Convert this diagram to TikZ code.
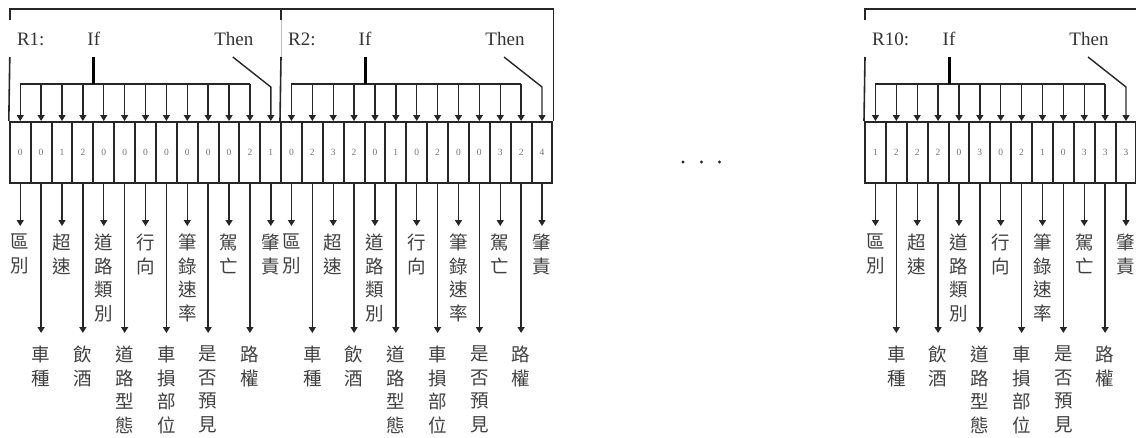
\documentclass[tikz,border=0pt]{standalone}
\usepackage{fontspec}
\setmainfont{Liberation Serif}
\newfontfamily\cjk{Noto Sans CJK TC}
\usetikzlibrary{arrows.meta}

\tikzset{
  frame/.style={line width=1.6pt, draw=black!85},
  faint/.style={line width=0.6pt, draw=black!25},
  cellbox/.style={draw=black!85, line width=2pt, minimum width=20.88pt,
    minimum height=61pt, inner sep=0pt, text=black!55,
    font=\fontsize{9.5}{9.5}\selectfont},
  feed/.style={line width=1.4pt, draw=black!85,
    -{Triangle[length=6pt,width=7pt]}},
  bracket/.style={line width=1.4pt, draw=black!85},
  ifstem/.style={line width=3pt, draw=black},
  head/.style={font=\fontsize{19}{19}\selectfont, text=black!80, inner sep=0pt},
  lab/.style={font=\cjk\fontsize{18.5}{23.5}\selectfont, align=center,
    inner sep=0pt, anchor=north, text=black!75},
  dot/.style={circle, fill=black!85, inner sep=0pt, minimum size=3.4pt},
}

% One rule: #1 name, #2 left edge of the cell row, #3 rule title, #4 cell values
\newcommand\ruleblock[4]{%
  \foreach \d [count=\i] in {#4}{
    \node[cellbox] (#1-\i) at ({#2+(\i-0.5)*20.88},152.5) {\d};
  }
  % titles
  \node[head, anchor=base west] (#1-name) at ({#2+7},45) {#3};
  \node[head, anchor=base] (#1-if) at ({#2+84},45) {If};
  \node[head, anchor=base] (#1-then) at ({#2+224},45) {Then};
  % condition bracket
  \coordinate (#1-ifs) at ({#2+84},57);
  \coordinate (#1-ifb) at ({#2+84},84);
  \foreach \i in {1,...,12}{
    \coordinate (#1-t\i) at ({#2+(\i-0.5)*20.88},84);
    \draw[feed] (#1-t\i) -- (#1-\i.north);
  }
  \draw[bracket] (#1-t1) -- (#1-t12);
  \draw[ifstem] (#1-ifs) -- (#1-ifb);
  % conclusion feed
  \coordinate (#1-ths) at ({#2+223},57);
  \coordinate (#1-t13) at ({#2+12.5*20.88},87);
  \draw[feed] (#1-ths) -- (#1-t13) -- (#1-13.north);
  % attribute outputs
  \foreach \t [count=\i] in {{區\\別},{車\\種},{超\\速},{飲\\酒},
      {道\\路\\類\\別},{道\\路\\型\\態},{行\\向},{車\\損\\部\\位},
      {筆\\錄\\速\\率},{是\\否\\預\\見},{駕\\亡},{路\\權},{肇\\責}}{
    \ifodd\i\relax \def\tipy{226}\def\laby{234}\else \def\tipy{333}\def\laby{346}\fi
    \coordinate (#1-e\i) at ({#2+(\i-0.5)*20.88},\tipy);
    \draw[feed] (#1-\i.south) -- (#1-e\i);
    \node[lab] (#1-l\i) at ({#2+(\i-0.5)*20.88},\laby) {\t};
  }
}

\begin{document}
\begin{tikzpicture}[x=1pt,y=-1pt]
  \useasboundingbox (0,0) rectangle (1136,437);
  \clip (0,0) rectangle (1136,437);

  \ruleblock{R1}{9.8}{R1:}{0,0,1,2,0,0,0,0,0,0,0,2,1}
  \ruleblock{R2}{281}{R2:}{0,2,3,2,0,1,0,2,0,0,3,2,4}
  \ruleblock{R10}{865}{R10:}{1,2,2,2,0,3,0,2,1,0,3,3,3}

  % frame around R1 and R2
  \coordinate (fa) at (9.8,20);
  \coordinate (fb) at (9.8,9);
  \coordinate (fc) at (R2-13.north east |- fb);
  \draw[frame] (fa) -- (fb) -- (fc) -- (R2-13.north east);
  \coordinate (fd) at (9.8,57);
  \draw[frame] (fd) -- (R1-1.north west);
  % divider between R1 and R2
  \coordinate (ga) at (281,9);
  \coordinate (gb) at (281,20);
  \coordinate (gc) at (281,57);
  \draw[frame] (ga) -- (gb);
  \draw[faint] (gb) -- (gc);
  \draw[frame] (gc) -- (R2-1.north west);
  % frame of R10
  \coordinate (ha) at (865,20);
  \coordinate (hb) at (865,9);
  \coordinate (hc) at (1140,9);
  \coordinate (hd) at (865,57);
  \draw[frame] (ha) -- (hb) -- (hc);
  \draw[frame] (hd) -- (R10-1.north west);

  % ellipsis between the rules
  \node[dot] (d1) at (683,162) {};
  \node[dot] (d2) at (701.5,162) {};
  \node[dot] (d3) at (719.5,162) {};
\end{tikzpicture}
\end{document}
